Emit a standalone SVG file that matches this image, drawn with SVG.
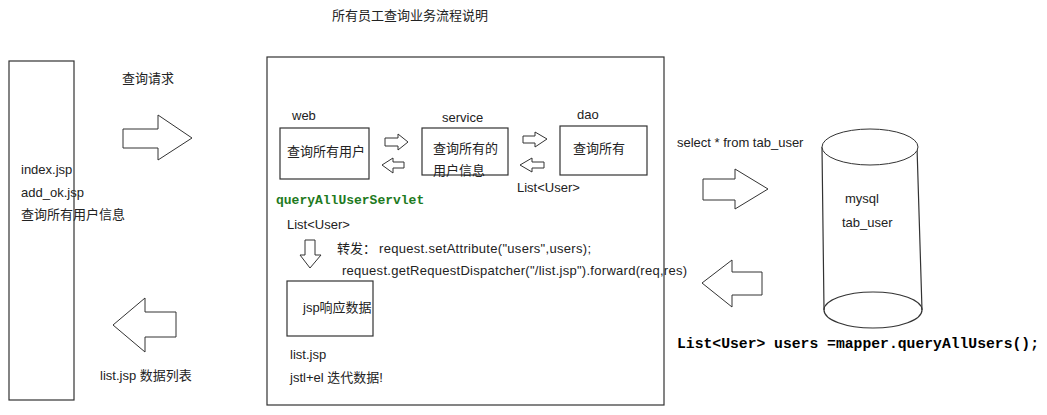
<svg xmlns="http://www.w3.org/2000/svg" width="1047" height="415" viewBox="0 0 1047 415">
<style>
.t{font-family:"Liberation Sans","Noto Sans CJK SC",sans-serif;font-size:13px;fill:#222}
.box{fill:none;stroke:#333;stroke-width:1.2}
.arr{fill:#fff;stroke:#333;stroke-width:1}
.code{font-family:"Liberation Mono","Noto Sans CJK SC",monospace;font-weight:bold;}
</style>
<rect width="1047" height="415" fill="#fff"/>
<text class="t" x="332" y="20">所有员工查询业务流程说明</text>

<g id="client">
<rect class="box" x="9" y="61" width="65" height="339"/>
<text class="t" x="21" y="174">index.jsp</text>
<text class="t" x="21" y="197">add_ok.jsp</text>
<text class="t" x="21" y="219">查询所有用户信息</text>
</g>

<g id="server">
<rect class="box" x="267" y="57" width="397" height="348"/>
</g>

<g id="web">
<rect class="box" x="280" y="128" width="89" height="51"/>
<text class="t" x="292" y="120">web</text>
<text class="t" x="287" y="156">查询所有用户</text>
</g>
<g id="service">
<rect class="box" x="422" y="128" width="86" height="47"/>
<text class="t" x="442" y="122">service</text>
<text class="t" x="433" y="153">查询所有的</text>
<text class="t" x="433" y="175">用户信息</text>
</g>
<g id="dao">
<rect class="box" x="560" y="126" width="87" height="49"/>
<text class="t" x="577" y="119">dao</text>
<text class="t" x="573" y="153">查询所有</text>
</g>
<g id="jsp">
<rect class="box" x="287" y="281" width="86" height="55"/>
<text class="t" x="303" y="312">jsp响应数据</text>
</g>
<g id="mysql">
<path class="box" d="M822,147 L824,310 M917,147 L922,310"/>
<ellipse class="arr" cx="870" cy="147" rx="48" ry="18"/>
<path class="box" d="M824,310 A49,18 0 0 0 922,310 A49,18 0 0 0 824,310"/>
<text class="t" x="845" y="203">mysql</text>
<text class="t" x="842" y="227">tab_user</text>
</g>

<g id="connectors">
<polygon class="arr" points="123,129 158,129 158,115 192,138 158,160 158,148 123,148"/>
<polygon class="arr" points="176,312 145,312 145,298 113,325 145,352 145,337 176,337"/>
<polygon class="arr" points="385,138 398,138 398,134 408,142 398,150 398,146 385,146"/>
<polygon class="arr" points="404,162 393,162 393,158 382,165 393,173 393,168 404,168"/>
<polygon class="arr" points="523,136 535,136 535,132 547,139 535,147 535,143 523,143"/>
<polygon class="arr" points="544,162 532,162 532,158 520,165 532,172 532,168 544,168"/>
<polygon class="arr" points="305,240 315,240 315,255 321,255 310,268 300,255 305,255"/>
<polygon class="arr" points="703,179 735,179 735,169 768,189 735,209 735,200 703,200"/>
<polygon class="arr" points="762,272 732,272 732,260 702,283 732,307 732,295 762,295"/>
</g>

<text class="t" x="122" y="83">查询请求</text>
<text class="t" x="100" y="380">list.jsp 数据列表</text>
<text class="t" x="517" y="192">List&lt;User&gt;</text>
<text x="276" y="204" style="font-family:'Liberation Mono',monospace;font-weight:bold;font-size:13px;fill:#1e7a1e">queryAllUserServlet</text>
<text class="t" x="287" y="229">List&lt;User&gt;</text>
<text class="t" x="337" y="253">转发：</text>
<text class="t" x="379" y="253" textLength="212" lengthAdjust="spacing">request.setAttribute("users",users);</text>
<text class="t" x="342" y="275" textLength="345" lengthAdjust="spacing">request.getRequestDispatcher("/list.jsp").forward(req,res)</text>
<text class="t" x="290" y="359">list.jsp</text>
<text class="t" x="290" y="382">jstl+el 迭代数据!</text>
<text class="t" x="677" y="147">select * from tab_user</text>
<text class="code" x="677" y="348" font-size="15" fill="#000" textLength="362" lengthAdjust="spacingAndGlyphs">List&lt;User&gt; users =mapper.queryAllUsers();</text>
</svg>
